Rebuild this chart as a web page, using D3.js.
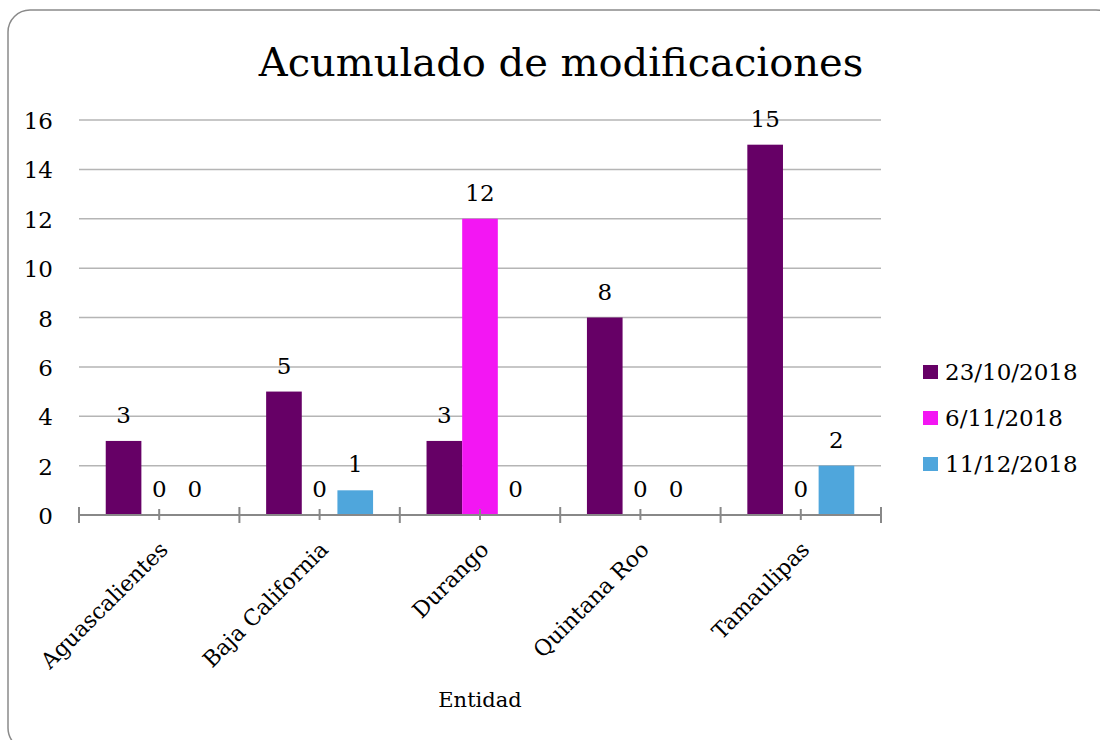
<!DOCTYPE html>
<html>
<head>
<meta charset="utf-8">
<script src="https://cdn.jsdelivr.net/npm/d3@7"></script>
<style>
  body { margin: 0; background: #fff; }
  svg { display: block; font-family: "DejaVu Serif", "Liberation Serif", serif; }
</style>
</head>
<body>
<svg width="1100" height="740"></svg>
<script>
// datos
const categories = ["Aguascalientes", "Baja California", "Durango", "Quintana Roo", "Tamaulipas"];
const seriesNames = ["23/10/2018", "6/11/2018", "11/12/2018"];
const serie1 = [3, 5, 3, 8, 15];
const serie2 = [0, 0, 12, 0, 0];
const serie3 = [0, 1, 0, 0, 2];
const yTicks = [0, 2, 4, 6, 8, 10, 12, 14, 16];
const colors = ["#660066", "#f316f3", "#4fa6dc"];

const allSeries = [serie1, serie2, serie3];

const svg = d3.select("svg");

// marco redondeado
svg.append("rect")
    .attr("x", 8).attr("y", 10)
    .attr("width", 1110).attr("height", 740)
    .attr("rx", 22).attr("ry", 22)
    .attr("fill", "none")
    .attr("stroke", "#8a8a8a")
    .attr("stroke-width", 1.5);

const plotLeft = 79, plotRight = 881, plotTop = 120, plotBottom = 515;

const x = d3.scaleBand().domain(categories).range([plotLeft, plotRight]);
const barW = x.bandwidth() / 4.5;
const xs = d3.scaleBand().domain(seriesNames)
    .range([0.75 * barW, 3.75 * barW]);

const y = d3.scaleLinear().domain([0, 16]).range([plotBottom, plotTop]);

// título
svg.append("text")
    .attr("x", 561).attr("y", 76)
    .attr("text-anchor", "middle")
    .attr("font-size", 40)
    .attr("fill", "#000")
    .text("Acumulado de modificaciones");

// rejilla
svg.append("g")
    .selectAll("line")
    .data(yTicks.filter(d => d > 0))
    .join("line")
    .attr("x1", plotLeft).attr("x2", plotRight)
    .attr("y1", d => y(d)).attr("y2", d => y(d))
    .attr("stroke", "#b5b5b5")
    .attr("stroke-width", 1.5);

// etiquetas eje y
svg.append("g")
    .selectAll("text")
    .data(yTicks)
    .join("text")
    .attr("x", 53)
    .attr("y", d => y(d) + 9)
    .attr("text-anchor", "end")
    .attr("font-size", 23)
    .text(d => d);

// barras
const groups = svg.append("g")
    .selectAll("g")
    .data(allSeries)
    .join("g")
    .attr("fill", (d, i) => colors[i]);

groups.selectAll("rect")
    .data((d, i) => d.map((v, j) => ({ v, cat: categories[j], s: seriesNames[i] })))
    .join("rect")
    .attr("x", d => x(d.cat) + xs(d.s))
    .attr("width", xs.bandwidth())
    .attr("y", d => y(d.v))
    .attr("height", d => y(0) - y(d.v));

// etiquetas de valores
groups.selectAll("text")
    .data((d, i) => d.map((v, j) => ({ v, cat: categories[j], s: seriesNames[i] })))
    .join("text")
    .attr("x", d => x(d.cat) + xs(d.s) + xs.bandwidth() / 2)
    .attr("y", d => y(d.v) - 18)
    .attr("text-anchor", "middle")
    .attr("font-size", 23)
    .attr("fill", "#000")
    .text(d => d.v);

// eje x
const axisG = svg.append("g").attr("stroke", "#888").attr("stroke-width", 2);
axisG.append("line")
    .attr("x1", plotLeft).attr("x2", plotRight)
    .attr("y1", plotBottom).attr("y2", plotBottom);
const edges = categories.map(c => x(c)).concat([plotRight]);
axisG.selectAll("line.major")
    .data(edges)
    .join("line")
    .attr("class", "major")
    .attr("x1", d => d).attr("x2", d => d)
    .attr("y1", plotBottom - 8).attr("y2", plotBottom + 8);
axisG.selectAll("line.minor")
    .data(categories)
    .join("line")
    .attr("class", "minor")
    .attr("x1", d => x(d) + x.bandwidth() / 2).attr("x2", d => x(d) + x.bandwidth() / 2)
    .attr("y1", plotBottom - 6).attr("y2", plotBottom + 5);

// etiquetas de categorías
svg.append("g")
    .selectAll("text")
    .data(categories)
    .join("text")
    .attr("transform", d => `translate(${x(d) + x.bandwidth() / 2 + 10},${plotBottom + 36}) rotate(-45)`)
    .attr("text-anchor", "end")
    .attr("font-size", 22)
    .text(d => d);

// título eje x
svg.append("text")
    .attr("x", (plotLeft + plotRight) / 2).attr("y", 707)
    .attr("text-anchor", "middle")
    .attr("font-size", 21)
    .text("Entidad");

// leyenda
const legend = svg.append("g")
    .selectAll("g")
    .data(seriesNames)
    .join("g")
    .attr("transform", (d, i) => `translate(923,${365 + i * 46})`);
legend.append("rect")
    .attr("width", 15).attr("height", 14)
    .attr("fill", (d, i) => colors[i]);
legend.append("text")
    .attr("x", 22).attr("y", 15)
    .attr("font-size", 23)
    .text(d => d);
</script>
</body>
</html>
